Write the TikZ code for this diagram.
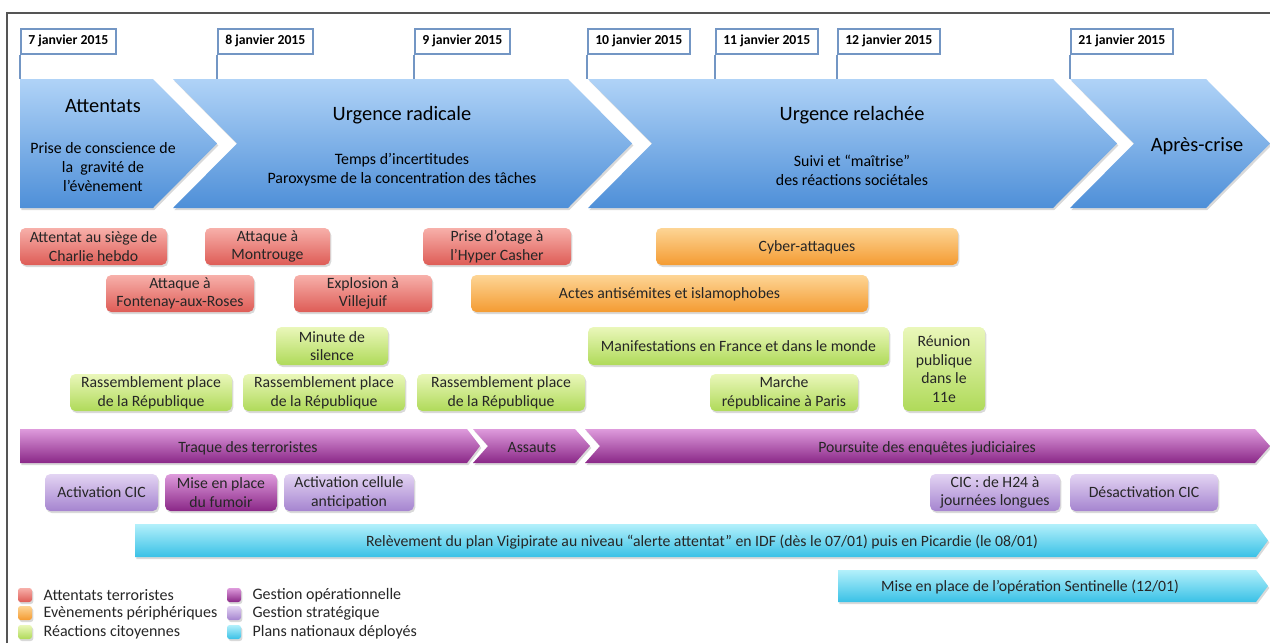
\documentclass[tikz,border=0pt]{standalone}
\usepackage{fontspec}
\setmainfont{Carlito}
\usepackage{tikz}
\usetikzlibrary{positioning, shadows, calc}

\definecolor{framegray}{HTML}{555555}
\definecolor{flagblue}{HTML}{7396C4}
\definecolor{phasetop}{HTML}{B0D3F7}
\definecolor{phasebot}{HTML}{4E8FD8}
\definecolor{redtop}{HTML}{F7B0AA}
\definecolor{redbot}{HTML}{DE5C56}
\definecolor{orgtop}{HTML}{FDD595}
\definecolor{orgbot}{HTML}{F49B32}
\definecolor{grntop}{HTML}{EAF7BA}
\definecolor{grnbot}{HTML}{AFDA59}
\definecolor{opstop}{HTML}{DE9BDC}
\definecolor{opsbot}{HTML}{8A2787}
\definecolor{strtop}{HTML}{E3D4F3}
\definecolor{strbot}{HTML}{A584CF}
\definecolor{plantop}{HTML}{B3F0FB}
\definecolor{planbot}{HTML}{39C1E6}

% event box given by its corners (pixel units)
\newcommand{\evbox}[7]{%
  \node[#2, minimum width={(#5-#3)*0.75pt}, minimum height={(#6-#4)*0.75pt}]
    (#1) at ({(#3+#5)/2},{(#4+#6)/2}) {#7};}
% band: style, left, right, top, bottom, tip depth, notch (0/1)
\newcommand{\band}[7]{%
  \path[#1] (#2,#4) -- ({#3-#6},#4) -- (#3,{(#4+#5)/2}) -- ({#3-#6},#5)
    -- (#2,#5) -- ({#2+#7*#6},{(#4+#5)/2}) -- cycle;}

\tikzset{
  shade3d/.style={drop shadow={opacity=0.3, shadow xshift=1pt, shadow yshift=-1.5pt}},
  evbase/.style={rounded corners=4pt, align=center, inner sep=1pt, shade3d,
    font=\fontsize{11.8}{14}\selectfont, text=black!85},
  redbox/.style={evbase, top color=redtop, bottom color=redbot},
  orgbox/.style={evbase, top color=orgtop, bottom color=orgbot},
  grnbox/.style={evbase, top color=grntop, bottom color=grnbot},
  opsbox/.style={evbase, top color=opstop, bottom color=opsbot},
  strbox/.style={evbase, top color=strtop, bottom color=strbot},
}

\begin{document}
\begin{tikzpicture}[x=0.75pt, y=-0.75pt,
  flag/.style={draw=flagblue, line width=1.4pt, fill=white, anchor=north west,
    font=\fontsize{10.3}{12}\selectfont\bfseries, minimum height=18.5pt, inner xsep=5.5pt},
  flagline/.style={flagblue, line width=1.4pt},
  phase/.style={shade3d, top color=phasetop, bottom color=phasebot},
  ops/.style={shade3d, top color=opstop, bottom color=opsbot},
  plan/.style={shade3d, top color=plantop, bottom color=planbot},
  phasetitle/.style={font=\fontsize{15.3}{18}\selectfont, align=center},
  phasetext/.style={font=\fontsize{11.9}{14.25}\selectfont, align=center},
  bandtext/.style={font=\fontsize{11.8}{14}\selectfont, text=black!85},
  oneline/.style={text depth=0.5pt},
  legkey/.style={minimum size=10.5pt, inner sep=0pt, rounded corners=2pt},
  legtext/.style={font=\fontsize{12}{14}\selectfont, text=black!85, anchor=west}]
  \useasboundingbox (0,0) rectangle (1270,643);
  \draw[framegray, line width=0.8pt] (7,643) -- (7,13) -- (1270,13);
  \coordinate (phtop) at (0,79);

  % dates
  \node[flag] (d07) at (20,28) {7 janvier 2015};
  \node[flag] (d08) at (217,28) {8 janvier 2015};
  \node[flag] (d09) at (414,28) {9 janvier 2015};
  \node[flag] (d10) at (587,28) {10 janvier 2015};
  \node[flag] (d11) at (715,28) {11 janvier 2015};
  \node[flag] (d12) at (837,28) {12 janvier 2015};
  \node[flag] (d21) at (1070,28) {21 janvier 2015};
  \foreach \d in {d07,d08,d09,d10,d11,d12,d21}
    \draw[flagline] (\d.south west) -- (\d.south west |- phtop);

  % phases
  \band{phase}{20}{217}{79}{208}{64}{0}
  \band{phase}{173}{632}{79}{208}{64}{1}
  \band{phase}{588}{1117}{79}{208}{64}{1}
  \band{phase}{1070}{1270}{79}{208}{64}{1}
  \node[phasetitle] (attentats) at (103,106) {Attentats};
  \node[phasetext] (attentatsub) at (103,167) {Prise de conscience de\\la~ gravité de\\l’évènement};
  \node[phasetitle] (radicale) at (402,115) {Urgence radicale};
  \node[phasetext] (radicalesub) at (402,170) {Temps d’incertitudes\\Paroxysme de la concentration des tâches};
  \node[phasetitle] (relachee) at (852,115) {Urgence relachée};
  \node[phasetext] (relacheesub) at (852,170) {Suivi et “maîtrise”\\des réactions sociétales};
  \node[phasetitle] (apres) at (1197,146) {Après-crise};

  % events
  \evbox{charlie}{redbox}{20}{228}{167}{265}{Attentat au siège de\\Charlie hebdo}
  \evbox{montrouge}{redbox}{205}{228}{330}{265}{Attaque à\\Montrouge}
  \evbox{casher}{redbox}{423}{228}{571}{265}{Prise d’otage à\\l’Hyper Casher}
  \evbox{fontenay}{redbox}{106}{275}{254}{312}{Attaque à\\Fontenay-aux-Roses}
  \evbox{villejuif}{redbox}{294}{275}{432}{312}{Explosion à\\Villejuif}
  \evbox{cyber}{orgbox, oneline}{656}{228}{958}{265}{Cyber-attaques}
  \evbox{actes}{orgbox, oneline}{471}{275}{868}{312}{Actes antisémites et islamophobes}
  \evbox{minute}{grnbox}{276}{327}{388}{365}{Minute de\\silence}
  \evbox{manif}{grnbox, oneline}{588}{327}{889}{365}{Manifestations en France et dans le monde}
  \evbox{reunion}{grnbox}{903}{327}{985}{411}{Réunion\\publique\\dans le\\11e}
  \evbox{rassA}{grnbox}{70}{374}{232}{411}{Rassemblement place\\de la République}
  \evbox{rassB}{grnbox}{243}{374}{405}{411}{Rassemblement place\\de la République}
  \evbox{rassC}{grnbox}{417}{374}{585}{411}{Rassemblement place\\de la République}
  \evbox{marche}{grnbox}{710}{374}{858}{411}{Marche\\républicaine à Paris}

  % operations
  \band{ops}{20}{480}{429}{463}{13}{0}
  \band{ops}{473}{590}{429}{463}{15}{1}
  \band{ops}{585}{1270}{429}{463}{15}{1}
  \node[bandtext] (traque) at (248,448) {Traque des terroristes};
  \node[bandtext] (assauts) at (532,448) {Assauts};
  \node[bandtext] (poursuite) at (927,448) {Poursuite des enquêtes judiciaires};
  \evbox{cic}{strbox, oneline}{45}{474}{158}{511}{Activation CIC}
  \evbox{fumoir}{opsbox}{165}{474}{277}{511}{Mise en place\\du fumoir}
  \evbox{cellule}{strbox}{284}{474}{414}{511}{Activation cellule\\anticipation}
  \evbox{h24}{strbox}{930}{474}{1060}{511}{CIC : de H24 à\\journées longues}
  \evbox{desact}{strbox, oneline}{1070}{474}{1218}{511}{Désactivation CIC}

  % plans
  \band{plan}{135}{1268}{524}{557}{12}{0}
  \band{plan}{838}{1268}{570}{602}{12}{0}
  \node[bandtext] (vigipirate) at (702,542) {Relèvement du plan Vigipirate au niveau “alerte attentat” en IDF (dès le 07/01) puis en Picardie (le 08/01)};
  \node[bandtext] (sentinelle) at (1030,587) {Mise en place de l’opération Sentinelle (12/01)};

  % legend
  \foreach \st/\txt/\x/\y [count=\i] in {redbox/Attentats terroristes/25/595,
      orgbox/Evènements périphériques/25/613, grnbox/Réactions citoyennes/25/632,
      opsbox/Gestion opérationnelle/234/595, strbox/Gestion stratégique/234/613,
      plan/Plans nationaux déployés/234/632} {
    \node[\st, legkey] (key\i) at (\x,\y) {};
    \node[legtext, right=5pt of key\i] (keytxt\i) {\txt};
  }
\end{tikzpicture}
\end{document}
